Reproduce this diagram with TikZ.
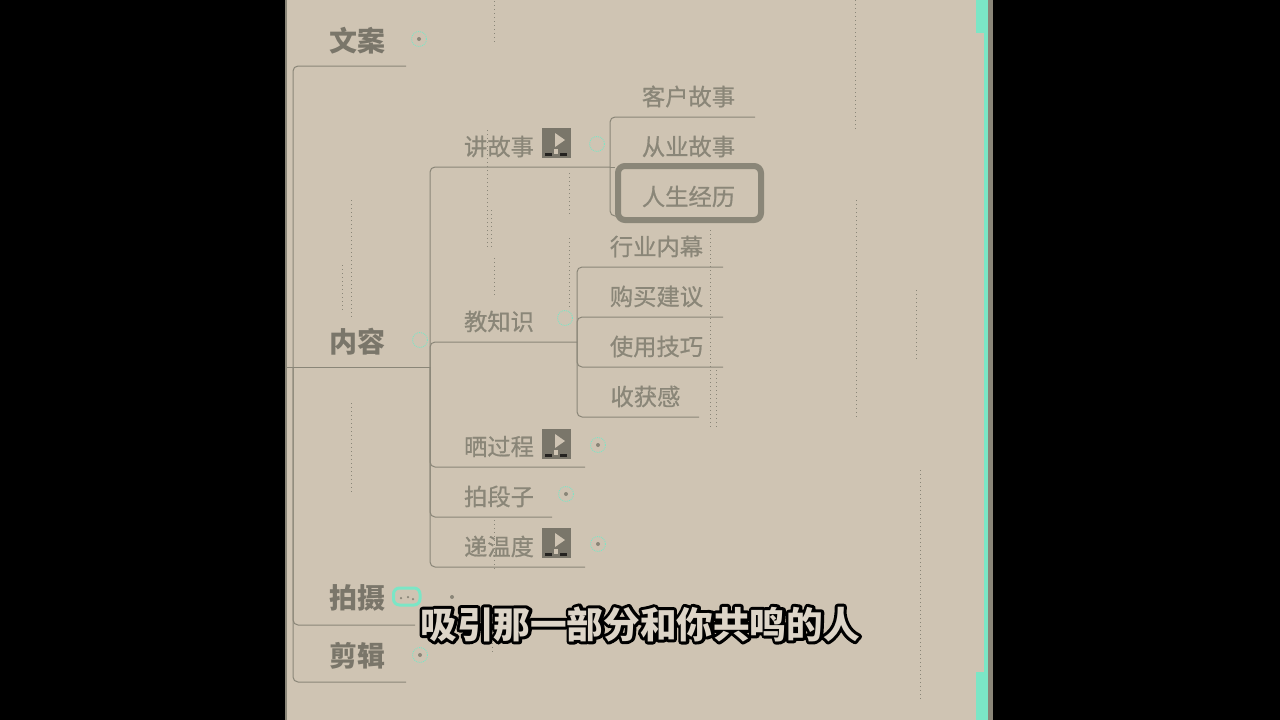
\documentclass[tikz,border=0pt]{standalone}
\usepackage{fontspec}
\setmainfont{Noto Sans CJK SC}
\newfontfamily\subweight[FakeBold=0.7]{Noto Sans CJK SC}
\usetikzlibrary{positioning}
\definecolor{panelbg}{HTML}{CFC4B3}
\definecolor{inkgray}{HTML}{8A8678}
\definecolor{inkdark}{HTML}{7A766A}
\definecolor{tealmark}{HTML}{7BE6C6}
\definecolor{subfill}{HTML}{DDD5C8}
\tikzset{
  topic/.style={text=inkdark,font=\fontsize{28}{28}\selectfont\bfseries,inner sep=0pt},
  subtopic/.style={text=inkgray,font=\fontsize{23.3}{24}\selectfont\subweight,inner sep=0pt},
  branch/.style={draw=inkgray,line width=1pt,rounded corners=5pt},
  fold/.style={draw=tealmark,densely dotted,line width=0.9pt},
  knob/.style={fill=inkgray,circle,inner sep=0pt,minimum size=4pt},
  vidbox/.style={fill=inkdark,inner sep=0pt,minimum width=29pt,minimum height=30pt},
  picked/.style={draw=inkgray,line width=6pt,rounded corners=7pt,inner sep=0pt,minimum width=143pt,minimum height=54pt},
  speck/.style={draw=inkgray,line width=0.9pt,dash pattern=on 1pt off 3pt},
  caption/.style={inner sep=0pt,font=\fontsize{36.6}{37}\selectfont\bfseries},
}
\begin{document}
\begin{tikzpicture}[x=1pt,y=-1pt]
\useasboundingbox (0,0) rectangle (1280,720);
\fill[black] (0,0) rectangle (1280,720);
\fill[panelbg] (285,0) rectangle (990,720);
% edges of the panel
\fill[inkgray] (285,0) rectangle (286.5,720);
\fill[tealmark] (984,0) rectangle (988,720);
\fill[tealmark] (976,0) rectangle (988,33);
\fill[tealmark] (976,672) rectangle (988,720);
\fill[inkgray] (988,0) rectangle (992.5,720);
%%%%%%%%%%%%%%%%%%%%%%%%%%%%%%%%%
% compression specks
\foreach \sx/\sa/\sb in {494/1/44,351/200/320,342/265/310,487/130/250,491/210/250,494/258/295,
  351/403/495,569/173/215,569/238/310,494/520/570,492/615/655,855/0/130,856/200/420,
  710/230/430,716/370/430,916/290/360,920/470/700} {
  \draw[speck] (\sx,\sa) -- (\sx,\sb);
}
%%%%%%%%%%%%%%%%%%%%%%%%%%%%%%%%%
% first level
\node[topic] (wenan) at (357,41) {文案};
\node[topic] (neirong) at (357,342) {内容};
\node[topic] (paishe) at (357,598) {拍摄};
\node[topic] (jianji) at (357,656) {剪辑};
\coordinate (rootstub) at (286,367);
\coordinate (rootjoint) at (293,367);
\coordinate (wenanend) at (406,66);
\coordinate (neirongend) at (430,367);
\coordinate (paisheend) at (415,625);
\coordinate (jianjiend) at (406,682);
\draw[branch] (wenanend) -| (rootjoint);
\draw[branch] (paisheend) -| (rootjoint);
\draw[branch] (jianjiend) -| (rootjoint);
\draw[branch] (rootstub) -- (neirongend);
%%%%%%%%%%%%%%%%%%%%%%%%%%%%%%%%%
% second level
\node[subtopic] (jiang) at (499,146.5) {讲故事};
\node[subtopic] (jiao) at (499,321.5) {教知识};
\node[subtopic] (shai) at (499,446.5) {晒过程};
\node[subtopic] (paiduan) at (499,496.5) {拍段子};
\node[subtopic] (diwen) at (499,546.5) {递温度};
\coordinate (jiangend) at (610,167);
\coordinate (jiaoend) at (577,342);
\coordinate (shaiend) at (585,467);
\coordinate (paiduanend) at (552,517);
\coordinate (diwenend) at (585,567);
\draw[branch] (jiangend) -| (neirongend);
\draw[branch] (jiaoend) -| (neirongend);
\draw[branch] (shaiend) -| (neirongend);
\draw[branch] (paiduanend) -| (neirongend);
\draw[branch] (diwenend) -| (neirongend);
%%%%%%%%%%%%%%%%%%%%%%%%%%%%%%%%%
% third level, first group
\node[subtopic] (kehu) at (688.5,96.5) {客户故事};
\node[subtopic] (congye) at (688.5,146.5) {从业故事};
\node[picked] (renshengbox) at (689.5,193) {};
\node[subtopic] (rensheng) at (688.5,196.5) {人生经历};
\coordinate (kehuend) at (755,117);
\coordinate (renshengend) at (616,216);
\draw[branch] (kehuend) -| (jiangend);
\draw[branch] (renshengend) -| (jiangend);
\draw[branch] (jiangend) -- (renshengbox.north west |- jiangend);
%%%%%%%%%%%%%%%%%%%%%%%%%%%%%%%%%
% third level, second group
\node[subtopic] (hangye) at (656.5,246.5) {行业内幕};
\node[subtopic] (goumai) at (656.5,296.5) {购买建议};
\node[subtopic] (shiyong) at (656.5,346.5) {使用技巧};
\node[subtopic] (shouhuo) at (645.5,396.5) {收获感};
\coordinate (hangyeend) at (723,267);
\coordinate (goumaiend) at (723,317);
\coordinate (shiyongend) at (723,367);
\coordinate (shouhuoend) at (699,417);
\draw[branch] (hangyeend) -| (jiaoend);
\draw[branch] (goumaiend) -| (jiaoend);
\draw[branch] (shiyongend) -| (jiaoend);
\draw[branch] (shouhuoend) -| (jiaoend);
%%%%%%%%%%%%%%%%%%%%%%%%%%%%%%%%%
% video marks
\foreach \vname/\vy in {vidjiang/143,vidshai/444,viddiwen/543} {
  \node[vidbox] (\vname) at (556,\vy) {};
  \fill[panelbg] (\vname.center) ++(-1,-10) -- ++(10,7) -- ++(-10,7) -- cycle;
  \fill[black!70!inkdark] (\vname.south west) ++(4,-5) rectangle ++(7,3);
  \fill[black!70!inkdark] (\vname.south east) ++(-11,-5) rectangle ++(7,3);
  \fill[panelbg] (\vname.south) ++(-2,-9) rectangle ++(4,5);
}
%%%%%%%%%%%%%%%%%%%%%%%%%%%%%%%%%
% fold marks
\foreach \kx/\ky in {419/39,597/144,565/318,420/340,598/445,566/494,598/544,420/655} {
  \draw[fold] (\kx,\ky) circle (7.5);
}
\foreach \kx/\ky in {419/39,598/445,566/494,598/544,420/655,452/597} {
  \node[knob] at (\kx,\ky) {};
}
\draw[tealmark,line width=3pt,rounded corners=6pt] (393.5,588) rectangle (420,605);
\node[knob,minimum size=2.5pt] at (401,598) {};
\node[knob,minimum size=2.5pt] at (408,597) {};
\node[knob,minimum size=2.5pt] at (413,599) {};
%%%%%%%%%%%%%%%%%%%%%%%%%%%%%%%%%
% caption: black stroked text, the filled text on top of it
\node[caption,text=black] (captionback) at (640,624) {\special{pdf:code q 1 j 1 J 6 w 0 0 0 RG 2 Tr}吸引那一部分和你共鸣的人\special{pdf:code 0 Tr Q}};
\node[caption,text=subfill] (captiontext) at (captionback.center) {吸引那一部分和你共鸣的人};
\end{tikzpicture}
\end{document}
